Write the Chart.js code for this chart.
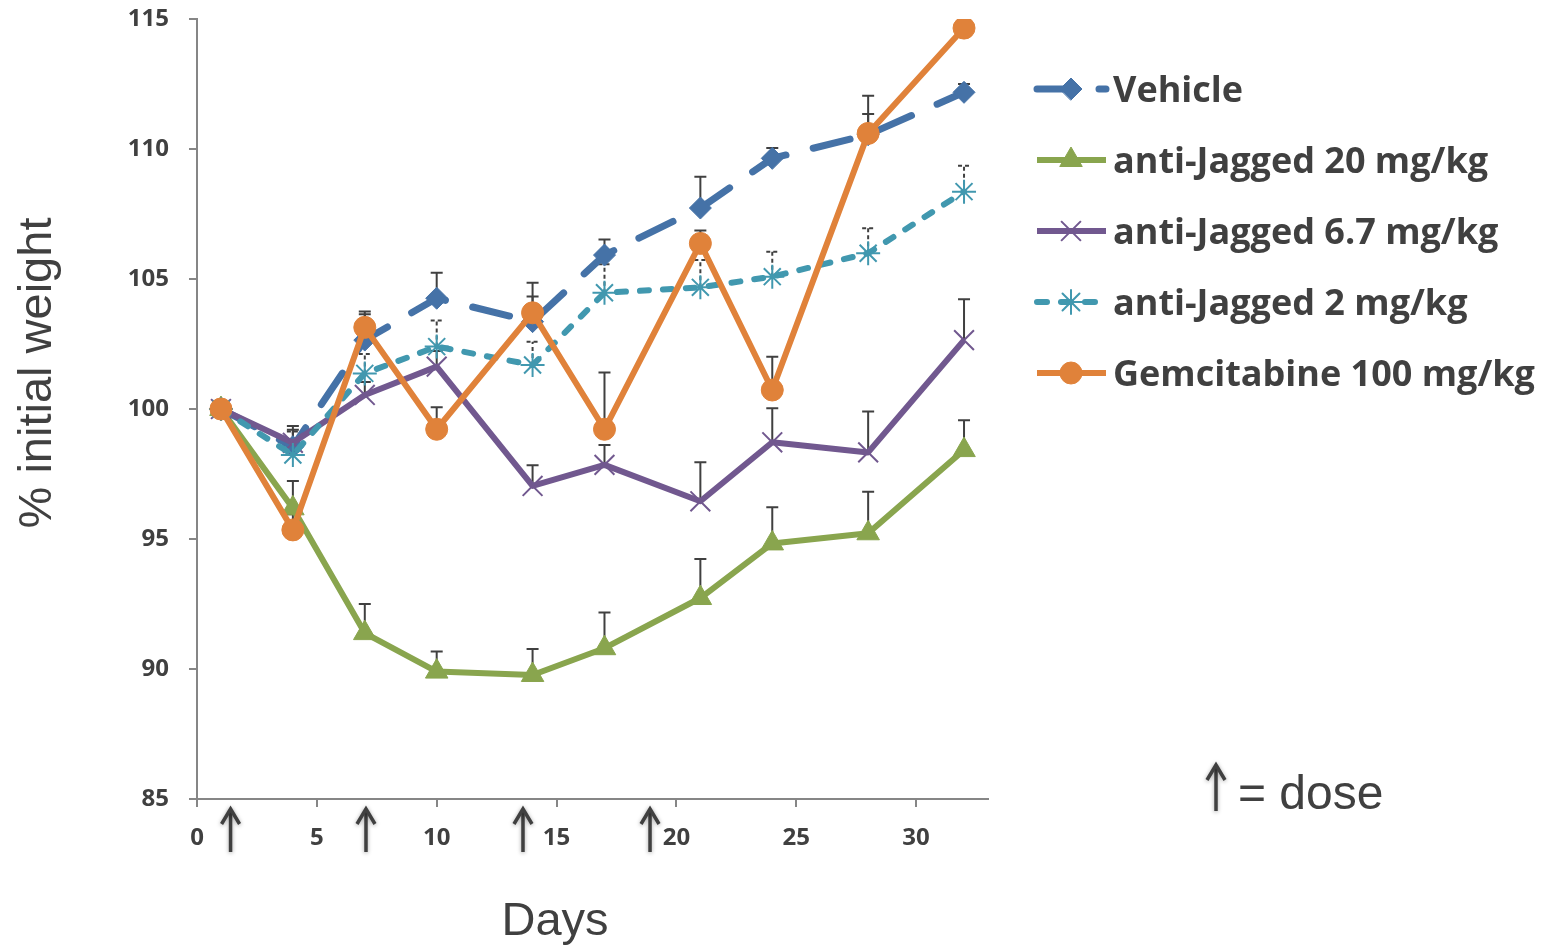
<!DOCTYPE html>
<html>
<head>
<meta charset="utf-8">
<script src="https://cdn.jsdelivr.net/npm/chart.js@4.4.1/dist/chart.umd.min.js"></script>
<style>
  html, body { margin: 0; padding: 0; background: #ffffff; }
  canvas { display: block; }
</style>
</head>
<body>
<canvas id="weightChart" width="1546" height="946"></canvas>
<script>
// Study days on which body weight was measured
const days = [1, 4, 7, 10, 14, 17, 21, 24, 28, 32];

// Series labels
const seriesNames = [
  'Vehicle',
  'anti-Jagged 20 mg/kg',
  'anti-Jagged 6.7 mg/kg',
  'anti-Jagged 2 mg/kg',
  'Gemcitabine 100 mg/kg'
];

// Mean % of initial weight and upper error (SEM) per group
const vehicle      = [100, 98.55, 102.65, 104.26, 103.36, 105.92, 107.73, 109.64, 110.55, 112.18];
const vehicleErr   = [0, 0.8, 1.1, 0.98, 1.5, 0.6, 1.2, 0.4, 1.5, 0.32];

const antiJag20    = [100, 96.18, 91.38, 89.9, 89.77, 90.8, 92.73, 94.83, 95.22, 98.42];
const antiJag20Err = [0, 1.05, 1.12, 0.77, 1.0, 1.37, 1.5, 1.39, 1.6, 1.15];

const antiJag67    = [100, 98.7, 100.54, 101.63, 97.04, 97.85, 96.45, 98.72, 98.33, 102.65];
const antiJag67Err = [0, 0.5, 0.5, 0.6, 0.8, 0.77, 1.5, 1.31, 1.57, 1.57];

const antiJag2     = [100, 98.23, 101.37, 102.4, 101.69, 104.47, 104.68, 105.09, 105.99, 108.36];
const antiJag2Err  = [0, 0.9, 0.75, 1.0, 0.9, 1.1, 1.05, 0.96, 0.96, 1.0];

const gemcitabine    = [100, 95.35, 103.14, 99.22, 103.7, 99.22, 106.37, 100.73, 110.6, 114.65];
const gemcitabineErr = [0, 0.6, 0.5, 0.85, 0.63, 2.18, 0.5, 1.28, 0.75, 0];

// Days on which a dose was given
const doseDays = [1.4, 7.05, 13.6, 18.9];

// Axis ranges
const xRange = [0, 33];
const yRange = [85, 115];

const TEXT = '#404040';
const AXIS = '#868686';

function points(vals, errs) {
  return days.map((d, i) => ({ x: d, y: vals[i], err: errs[i] }));
}

const datasets = [
  {
    label: seriesNames[0], data: points(vehicle, vehicleErr),
    borderColor: '#4572A7', borderWidth: 7,
    borderDash: [38, 28], borderCapStyle: 'round',
    pointStyle: 'rectRot', pointRadius: 11, pointBorderWidth: 1, order: 5,
    legendDash: [36, 26]
  },
  {
    label: seriesNames[1], data: points(antiJag20, antiJag20Err),
    borderColor: '#89A54E', borderWidth: 6,
    pointStyle: 'triangle', pointRadius: 13, pointBorderWidth: 1, order: 4
  },
  {
    label: seriesNames[2], data: points(antiJag67, antiJag67Err),
    borderColor: '#71588F', borderWidth: 6,
    pointStyle: 'crossRot', pointRadius: 14, pointBorderWidth: 2, order: 3
  },
  {
    label: seriesNames[3], data: points(antiJag2, antiJag2Err),
    borderColor: '#4198AF', borderWidth: 6,
    borderDash: [9, 14], borderCapStyle: 'round',
    pointStyle: 'star', pointRadius: 12, pointBorderWidth: 2, order: 2,
    errDash: [4, 3], legendDash: [10, 14]
  },
  {
    label: seriesNames[4], data: points(gemcitabine, gemcitabineErr),
    borderColor: '#E0823A', borderWidth: 6,
    pointStyle: 'circle', pointRadius: 11, pointBorderWidth: 1, order: 1
  }
];
datasets.forEach(ds => {
  ds.backgroundColor = ds.borderColor;
  ds.pointBackgroundColor = ds.borderColor;
  ds.pointBorderColor = ds.borderColor;
  ds.borderJoinStyle = 'round';
  ds.tension = 0;
  ds.fill = false;
});

// Upward-only error bars with caps, drawn beneath the lines
const errorBars = {
  id: 'errorBars',
  beforeDatasetsDraw(chart) {
    const ctx = chart.ctx, xs = chart.scales.x, ys = chart.scales.y;
    chart.data.datasets.forEach(ds => {
      ctx.save();
      ctx.strokeStyle = TEXT;
      ctx.lineWidth = 2;
      ctx.setLineDash(ds.errDash || []);
      ds.data.forEach(p => {
        if (!p.err) return;
        const x = xs.getPixelForValue(p.x);
        const y0 = ys.getPixelForValue(p.y);
        const y1 = ys.getPixelForValue(p.y + p.err);
        ctx.beginPath();
        ctx.moveTo(x, y0); ctx.lineTo(x, y1);
        ctx.moveTo(x - 6, y1); ctx.lineTo(x + 6, y1);
        ctx.stroke();
      });
      ctx.restore();
    });
  }
};

function drawArrow(ctx, x, yTip, yBase) {
  ctx.save();
  ctx.strokeStyle = TEXT;
  ctx.lineWidth = 3.5;
  ctx.lineCap = 'butt';
  ctx.lineJoin = 'miter';
  ctx.shadowColor = 'rgba(0,0,0,0.35)';
  ctx.shadowBlur = 4;
  ctx.shadowOffsetY = 1;
  ctx.beginPath();
  ctx.moveTo(x, yBase); ctx.lineTo(x, yTip + 2);
  ctx.stroke();
  ctx.beginPath();
  ctx.moveTo(x - 9, yTip + 16); ctx.lineTo(x, yTip + 1); ctx.lineTo(x + 9, yTip + 16);
  ctx.stroke();
  ctx.restore();
}

// Axis titles, dose markers and the series key
const decorations = {
  id: 'decorations',
  afterDraw(chart) {
    const ctx = chart.ctx, xs = chart.scales.x;

    ctx.save();
    ctx.fillStyle = TEXT;
    ctx.font = '47px "Liberation Sans", Arial, sans-serif';
    ctx.textAlign = 'center';
    ctx.textBaseline = 'alphabetic';
    ctx.fillText('Days', 555, 935);
    ctx.translate(51, 373);
    ctx.rotate(-Math.PI / 2);
    ctx.fillText('% initial weight', 0, 0);
    ctx.restore();

    doseDays.forEach(d => drawArrow(ctx, xs.getPixelForValue(d), 808, 852));

    drawArrow(ctx, 1216, 764, 811);
    ctx.save();
    ctx.fillStyle = TEXT;
    ctx.font = '48px "Liberation Sans", Arial, sans-serif';
    ctx.textAlign = 'left';
    ctx.textBaseline = 'alphabetic';
    ctx.fillText('= dose', 1238, 809);
    ctx.restore();

    chart.data.datasets.forEach((ds, i) => {
      const y = 89 + i * 71;
      ctx.save();
      ctx.strokeStyle = ds.borderColor;
      ctx.lineWidth = ds.borderWidth;
      ctx.lineCap = ds.borderCapStyle || 'butt';
      ctx.setLineDash(ds.legendDash || []);
      ctx.beginPath();
      ctx.moveTo(1037, y); ctx.lineTo(1106, y);
      ctx.stroke();
      ctx.setLineDash([]);
      ctx.fillStyle = ds.borderColor;
      ctx.lineWidth = ds.pointBorderWidth;
      Chart.helpers.drawPoint(ctx, {
        pointStyle: ds.pointStyle, radius: ds.pointRadius, rotation: 0, borderWidth: ds.pointBorderWidth
      }, 1071, y);
      ctx.fillStyle = TEXT;
      ctx.font = 'bold 36px "Open Sans", sans-serif';
      ctx.textAlign = 'left';
      ctx.textBaseline = 'alphabetic';
      ctx.fillText(ds.label, 1113, y + 13);
      ctx.restore();
    });
  }
};

new Chart(document.getElementById('weightChart'), {
  type: 'line',
  data: { datasets },
  options: {
    responsive: false,
    animation: false,
    events: [],
    layout: { autoPadding: false, padding: { left: 0, right: 558, top: 19, bottom: 0 } },
    plugins: { legend: { display: false }, tooltip: { enabled: false } },
    scales: {
      x: {
        type: 'linear', min: xRange[0], max: xRange[1],
        afterFit(scale) {
          scale.height = 147;
          scale.paddingLeft = 0; scale.paddingRight = 0;
        },
        border: { color: AXIS, width: 2 },
        grid: { drawOnChartArea: false, drawTicks: true, tickLength: 8, color: AXIS, lineWidth: 2 },
        ticks: {
          stepSize: 5, includeBounds: false, maxRotation: 0, padding: 17,
          color: TEXT, font: { family: '"Open Sans", sans-serif', weight: 'bold', size: 24 }
        }
      },
      y: {
        type: 'linear', min: yRange[0], max: yRange[1],
        afterFit(scale) {
          scale.width = 197;
          scale.paddingTop = 0; scale.paddingBottom = 0;
        },
        border: { color: AXIS, width: 2 },
        grid: { drawOnChartArea: false, drawTicks: true, tickLength: 8, color: AXIS, lineWidth: 2 },
        ticks: {
          stepSize: 5, padding: 20,
          color: TEXT, font: { family: '"Open Sans", sans-serif', weight: 'bold', size: 24 }
        }
      }
    }
  },
  plugins: [errorBars, decorations]
});
</script>
</body>
</html>
